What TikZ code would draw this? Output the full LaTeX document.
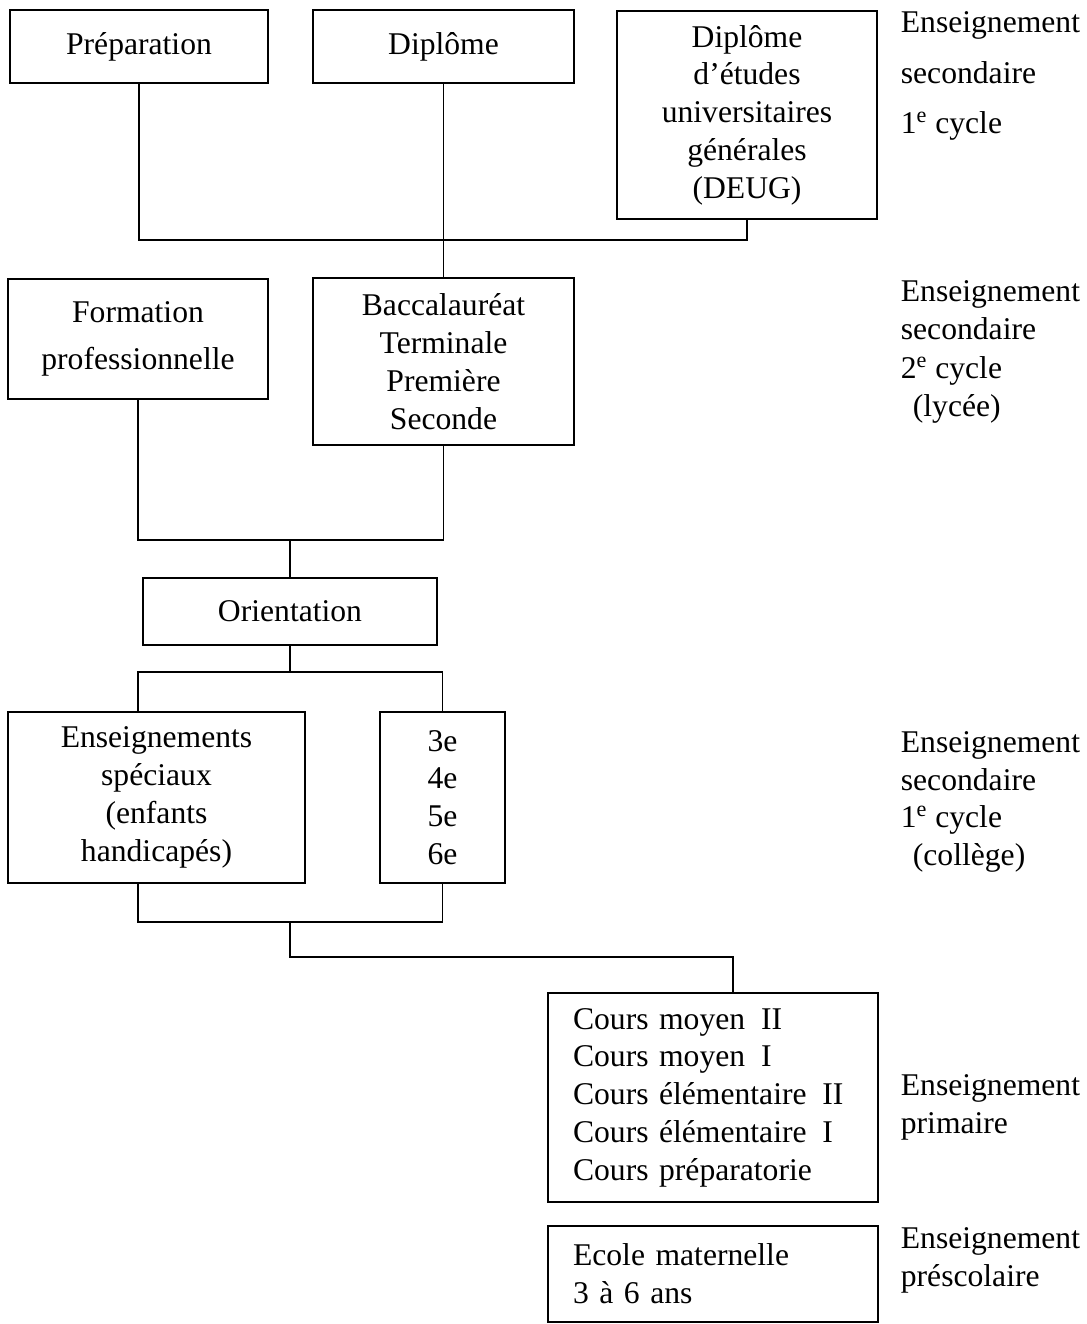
\documentclass[tikz,border=0pt]{standalone}
\usepackage{fontspec}
\setmainfont{Liberation Serif}
\begin{document}
\begin{tikzpicture}[x=0.02cm, y=-0.02cm, line width=1pt,
    every node/.style={font=\fontsize{18}{21.5}\selectfont},
    box/.style={draw, align=center, inner sep=0pt},
    listbox/.style={draw, align=left, text width=5.6cm, inner xsep=0.5cm, inner ysep=0pt},
    level/.style={anchor=west, align=left, inner sep=0pt}]
    \useasboundingbox (0,0) rectangle (1087,1324);
    % enseignement superieur
    \node[box, minimum width=5.16cm, minimum height=1.46cm] (prep) at (139,46.5) {Préparation};
    \node[box, minimum width=5.22cm, minimum height=1.46cm] (dipl) at (443.5,46.5) {Diplôme};
    \node[box, minimum width=5.2cm, minimum height=4.16cm] (deug) at (747,115)
        {Diplôme\\d'études\\universitaires\\générales\\(DEUG)};
    % lycee
    \node[box, minimum width=5.2cm, minimum height=2.4cm] (form) at (138,339)
        {Formation\\[5pt]professionnelle};
    \node[box, minimum width=5.22cm, minimum height=3.34cm] (bac) at (443.5,361.5)
        {Baccalauréat\\Terminale\\Première\\Seconde};
    \node[box, minimum width=5.88cm, minimum height=1.34cm] (orient) at (290,611.5) {Orientation};
    % college
    \node[box, minimum width=5.94cm, minimum height=3.42cm] (spec) at (156.5,797.5)
        {Enseignements\\spéciaux\\(enfants\\handicapés)};
    \node[box, minimum width=2.5cm, minimum height=3.42cm] (coll) at (442.5,797.5)
        {3e\\4e\\5e\\6e};
    % primaire et prescolaire
    \node[listbox, minimum height=4.18cm] (cours) at (713,1097.5)
        {Cours moyen\enspace II\\Cours moyen\enspace I\\Cours élémentaire\enspace II\\Cours élémentaire\enspace I\\Cours préparatorie};
    \node[listbox, minimum height=1.92cm] (ecole) at (713,1274)
        {Ecole maternelle\\3 à 6 ans};
    % niveaux
    \node[level, font=\fontsize{18}{28.5}\selectfont] (niv1) at (900,76)
        {Enseignement\\secondaire\\1\textsuperscript{e} cycle};
    \node[level, font=\fontsize{18}{21.8}\selectfont] (niv2) at (900,352)
        {Enseignement\\secondaire\\2\textsuperscript{e} cycle\\\hspace*{0.24cm}(lycée)};
    \node[level] (niv3) at (900,802)
        {Enseignement\\secondaire\\1\textsuperscript{e} cycle\\\hspace*{0.24cm}(collège)};
    \node[level] (niv4) at (900,1107) {Enseignement\\primaire};
    \node[level] (niv5) at (900,1260) {Enseignement\\préscolaire};
    % liaisons
    \coordinate (j1) at (443.5,240);
    \coordinate (j2) at (290,540);
    \coordinate (j3) at (290,672);
    \coordinate (j4) at (290,922);
    \coordinate (j5) at (733,957);
    \draw (prep.south) |- (j1);
    \draw (deug.south) |- (j1);
    \draw (dipl.south) -- (bac.north);
    \draw (form.south) |- (j2);
    \draw (bac.south) |- (j2);
    \draw (j2) -- (orient.north);
    \draw (orient.south) -- (j3);
    \draw (spec.north -| form.south) |- (j3) -| (coll.north);
    \draw (spec.south -| form.south) |- (j4) -| (coll.south);
    \draw (j4) |- (j5) -- (j5 |- cours.north);
\end{tikzpicture}
\end{document}
